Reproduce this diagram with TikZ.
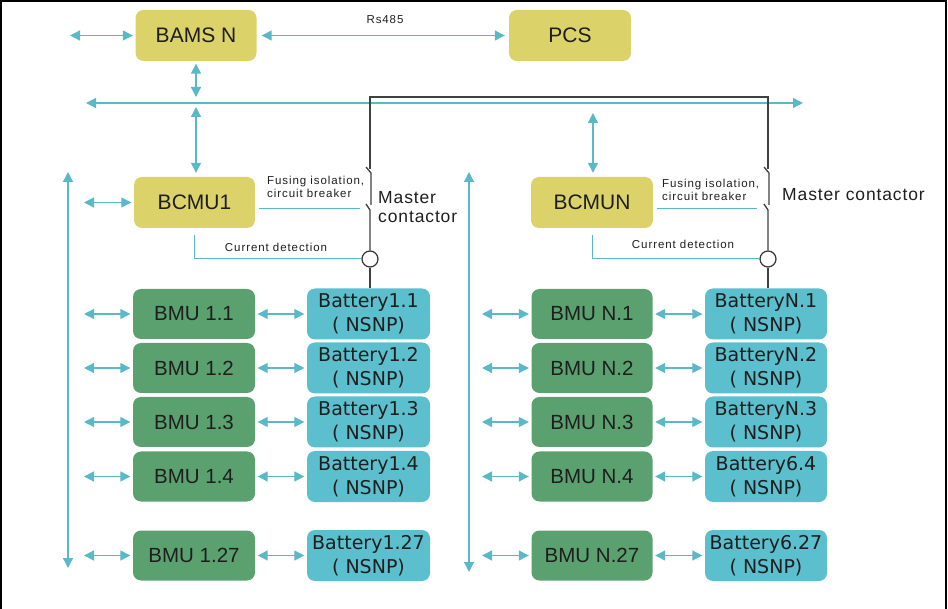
\documentclass[tikz,border=0pt]{standalone}
\usepackage{fontspec}
\setmainfont{Liberation Sans}
\newfontfamily\dvs{DejaVu Sans}
\newfontfamily\spsmall[LetterSpace=8]{Liberation Sans}
\newfontfamily\spmid[LetterSpace=5]{Liberation Sans}
\usetikzlibrary{arrows.meta}
\definecolor{ylw}{HTML}{DCD26A}
\definecolor{grn}{HTML}{5BA170}
\definecolor{cyb}{HTML}{5CBFCE}
\definecolor{acy}{HTML}{5AB9C8}
\definecolor{txt}{HTML}{1E1E1E}
\begin{document}
\begin{tikzpicture}[x=1pt,y=-1pt,
  box/.style={rounded corners=8pt, inner sep=0pt, text=txt, minimum height=51pt},
  topbox/.style={box, fill=ylw, minimum width=121pt, font=\fontsize{21}{24}\selectfont},
  bmu/.style={box, fill=grn, minimum width=122pt, minimum height=50pt, font=\fontsize{20.5}{24}\selectfont},
  bat/.style={box, fill=cyb, minimum width=123pt, align=center, font=\dvs\fontsize{19}{24}\selectfont},
  biarrow/.style={draw=acy, line width=1.3pt, {Triangle[length=10pt,width=10pt]}-{Triangle[length=10pt,width=10pt]}, shorten <=2.5pt, shorten >=2.5pt},
  thin/.style={draw=acy, line width=1pt},
  blk/.style={draw=black!75, line width=1.3pt},
  small/.style={text=txt, font=\spsmall\fontsize{11.5}{13.5}\selectfont, inner sep=0pt, align=left},
  mid/.style={text=txt, font=\spmid\fontsize{17.5}{19}\selectfont, inner sep=0pt, align=left}
]
\useasboundingbox (0,0) rectangle (948,609);
\draw[line width=2pt] (1,609) -- (1,1) -- (946,1) -- (946,609);

% top level
\node[topbox] (bams) at (196,35.5) {BAMS N};
\node[topbox, minimum width=122pt] (pcs) at (570,35.5) {PCS};
\node[small] (rs) at (385,20) {Rs485};
\coordinate (bamsL) at (70,35.5);
\draw[biarrow, shorten <=0pt] (bamsL) -- (bams.west);
\draw[biarrow, shorten <=5pt, shorten >=4pt] (bams.east) -- (pcs.west);

% bus
\coordinate (busL) at (86,103);
\coordinate (busR) at (803,103);
\draw[biarrow, shorten <=0pt, shorten >=0pt] (busL) -- (busR);
\coordinate (busA) at (196,103);
\coordinate (busB) at (593,103);
\draw[biarrow, shorten >=6pt] (bams.south) -- (busA);

% BCMU
\node[topbox] (bcmu1) at (194.5,202.5) {BCMU1};
\node[topbox, minimum width=122pt] (bcmuN) at (592,202.5) {BCMUN};
\draw[biarrow, shorten <=4pt, shorten >=4pt] (busA) -- (busA |- bcmu1.north);
\draw[biarrow, shorten <=10pt, shorten >=4pt] (busB) -- (busB |- bcmuN.north);
\coordinate (bcL) at (84,202.5);
\draw[biarrow, shorten <=0pt] (bcL) -- (bcmu1.west);

% contactor circles and black line
\node[circle, draw=black!80, line width=1.2pt, fill=white, minimum size=16pt, inner sep=0pt] (c1) at (370,259) {};
\node[circle, draw=black!80, line width=1.2pt, fill=white, minimum size=16pt, inner sep=0pt] (cN) at (768,259) {};
\coordinate (k1) at (370,97);
\coordinate (kN) at (768,97);
\draw[blk] (370,169) -- (k1) -- (kN) -- (768,169);
\draw[blk] (366,167) -- (371,173) -- (371,205);
\draw[blk] (366,204) -- (370,210) -- (c1.north);
\draw[blk] (764,167) -- (769,173) -- (769,205);
\draw[blk] (764,204) -- (768,210) -- (cN.north);

% fusing lines and labels
\coordinate (f1) at (360,209);
\coordinate (fN) at (757,209);
\draw[thin, shorten <=4pt] (bcmu1.east |- f1) -- (f1);
\draw[thin, shorten <=4pt] (bcmuN.east |- fN) -- (fN);
\node[small, anchor=west] (fus1) at (267,187) {Fusing isolation,\\circuit breaker};
\node[small, anchor=west] (fusN) at (662,190) {Fusing isolation,\\circuit breaker};
\node[mid, anchor=west] (mc1) at (378,207) {Master\\contactor};
\node[mid, anchor=west] (mcN) at (782,195) {Master contactor};

% current detection
\draw[thin, shorten <=7pt] (bcmu1.south) -- (bcmu1.south |- c1) -- (c1.west);
\draw[thin, shorten <=7pt] (bcmuN.south) -- (bcmuN.south |- cN) -- (cN.west);
\node[small] (cd1) at (276,247) {Current detection};
\node[small] (cdN) at (683,244) {Current detection};

% long vertical arrows
\coordinate (vL1) at (68,172);
\coordinate (vL2) at (68,568);
\coordinate (vR1) at (469,172);
\coordinate (vR2) at (469,572);
\draw[biarrow, shorten <=0pt, shorten >=0pt] (vL1) -- (vL2);
\draw[biarrow, shorten <=0pt, shorten >=0pt] (vR1) -- (vR2);

% rows
\foreach \i/\yy/\ma/\mb/\mc/\md in {1/314/1.1/N.1/1.1/N.1, 2/368/1.2/N.2/1.2/N.2, 3/422/1.3/N.3/1.3/N.3, 4/476.5/1.4/N.4/1.4/6.4, 5/555.5/1.27/N.27/1.27/6.27}{
  \node[bmu] (bl\i) at (194,\yy) {BMU \ma};
  \node[bat] (tl\i) at (368.5,\yy) {Battery\mc\\( NSNP)};
  \node[bmu, minimum width=121pt] (br\i) at (592,\yy) {BMU \mb};
  \node[bat, minimum width=122pt] (tr\i) at (766,\yy) {Battery\md\\( NSNP)};
  \coordinate (al\i) at (84,\yy);
  \coordinate (ar\i) at (482,\yy);
  \draw[biarrow, shorten <=0pt] (al\i) -- (bl\i.west);
  \draw[biarrow] (bl\i.east) -- (tl\i.west);
  \draw[biarrow, shorten <=0pt] (ar\i) -- (br\i.west);
  \draw[biarrow] (br\i.east) -- (tr\i.west);
}
\draw[blk] (c1.south) -- (c1.south |- tl1.north);
\draw[blk] (cN.south) -- (cN.south |- tr1.north);
\end{tikzpicture}
\end{document}
